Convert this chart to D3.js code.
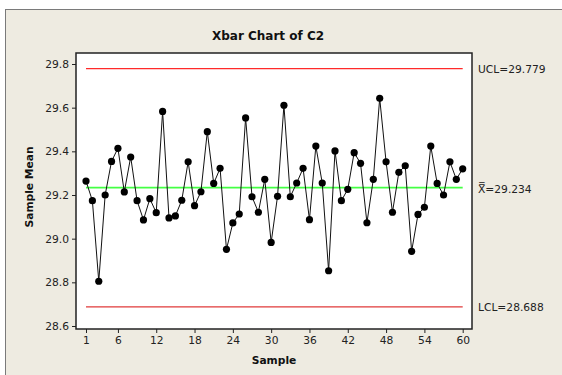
<!DOCTYPE html>
<html><head><meta charset="utf-8">
<script src="https://cdn.jsdelivr.net/npm/d3@7"></script>
<style>
html,body{margin:0;padding:0;background:#fff;}
svg{display:block;font-family:"DejaVu Sans",Verdana,sans-serif;}
</style></head>
<body>
<svg id="c" width="562" height="375"></svg>
<script>
// ---- data ----
const samples = d3.range(1, 61);
const means = [29.264,29.174,28.805,29.200,29.354,29.414,29.214,29.374,29.174,29.086,
               29.183,29.119,29.583,29.095,29.104,29.176,29.352,29.151,29.215,29.490,
               29.253,29.322,28.951,29.072,29.113,29.553,29.192,29.121,29.272,28.983,
               29.194,29.611,29.192,29.255,29.322,29.087,29.424,29.255,28.853,29.402,
               29.174,29.226,29.394,29.345,29.073,29.272,29.643,29.352,29.121,29.304,
               29.334,28.942,29.111,29.144,29.424,29.253,29.200,29.352,29.272,29.320];
const xTicks = [1,6,12,18,24,30,36,42,48,54,60];
const yTicks = [28.6,28.8,29.0,29.2,29.4,29.6,29.8];
const limits = {ucl:29.779, center:29.234, lcl:28.688};
const title = "Xbar Chart of C2";
const xLabel = "Sample";
const yLabel = "Sample Mean";

// ---- layout ----
const svg = d3.select("#c");
const frame = {l:76, t:53, r:472, b:329};
const x = d3.scaleLinear().domain([1,60]).range([86,462.7]);
const y = d3.scaleLinear().domain([28.6,29.8]).range([326,64]);

// background panel
svg.append("rect").attr("x",5.5).attr("y",9.5).attr("width",560).attr("height",370)
  .attr("fill","#eeebe1").attr("stroke","#7a7a7a").attr("stroke-width",1);

// plot area
svg.append("rect").attr("x",frame.l).attr("y",frame.t)
  .attr("width",frame.r-frame.l).attr("height",frame.b-frame.t)
  .attr("fill","#fff");

// title
svg.append("text").attr("x",268).attr("y",40).attr("text-anchor","middle")
  .attr("font-size",12).attr("font-weight","bold").attr("fill","#111").text(title);

// axes
const gx = svg.append("g").attr("transform",`translate(0,${frame.b})`)
  .call(d3.axisBottom(x).tickValues(xTicks).tickSize(4).tickSizeOuter(0).tickPadding(3));
const gy = svg.append("g").attr("transform",`translate(${frame.l},0)`)
  .call(d3.axisLeft(y).tickValues(yTicks).tickFormat(d3.format(".1f")).tickSize(4).tickSizeOuter(0).tickPadding(3));
[gx,gy].forEach(g=>{
  g.select(".domain").remove();
  g.selectAll("line").attr("stroke","#222");
  g.selectAll("text").attr("font-size",10.7).attr("fill","#222")
   .attr("font-family","'DejaVu Sans',Verdana,sans-serif");
});

// limit lines
const lineCol = {ucl:"#ff2a2a", center:"#44ff44", lcl:"#e03a3a"};
["ucl","center","lcl"].forEach(k=>{
  svg.append("line").attr("x1",x(1)).attr("x2",x(60))
    .attr("y1",y(limits[k])).attr("y2",y(limits[k]))
    .attr("stroke",lineCol[k]).attr("stroke-width",k==="center"?1.6:1.3);
});

// data line + points
const pts = samples.map((s,i)=>[s,means[i]]);
svg.append("path").datum(pts)
  .attr("d",d3.line().x(d=>x(d[0])).y(d=>y(d[1])))
  .attr("fill","none").attr("stroke","#111").attr("stroke-width",1);
svg.append("g").selectAll("circle").data(pts).join("circle")
  .attr("cx",d=>x(d[0])).attr("cy",d=>y(d[1])).attr("r",3.6).attr("fill","#000");

// frame border
svg.append("rect").attr("x",frame.l).attr("y",frame.t)
  .attr("width",frame.r-frame.l).attr("height",frame.b-frame.t)
  .attr("fill","none").attr("stroke","#222").attr("stroke-width",1.5);

// limit labels
const lx = 478;
svg.append("text").attr("x",lx).attr("y",y(limits.ucl)+4).attr("font-size",10.7).attr("fill","#222")
  .text("UCL="+limits.ucl.toFixed(3));
svg.append("text").attr("x",lx).attr("y",y(limits.center)+5).attr("font-size",10.7).attr("fill","#222")
  .text("X\u033F="+limits.center.toFixed(3));
svg.append("text").attr("x",lx).attr("y",y(limits.lcl)+4).attr("font-size",10.7).attr("fill","#222")
  .text("LCL="+limits.lcl.toFixed(3));

// axis titles
svg.append("text").attr("x",274).attr("y",364).attr("text-anchor","middle")
  .attr("font-size",10.7).attr("font-weight","bold").attr("fill","#111").text(xLabel);
svg.append("text").attr("transform","translate(33,187) rotate(-90)").attr("text-anchor","middle")
  .attr("font-size",10.7).attr("font-weight","bold").attr("fill","#111").text(yLabel);
</script>
</body></html>
